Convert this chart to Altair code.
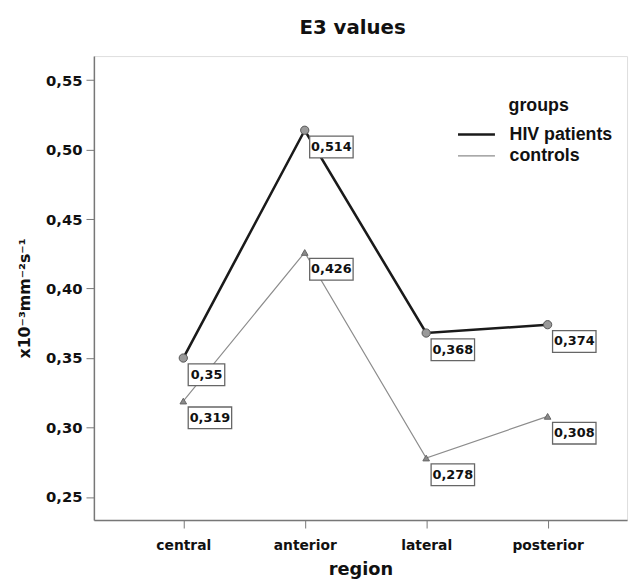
import altair as alt
import pandas as pd

regions = ["central", "anterior", "lateral", "posterior"]
hiv_values = [0.35, 0.514, 0.368, 0.374]
control_values = [0.319, 0.426, 0.278, 0.308]
groups = ["HIV patients", "controls"]
y_ticks = [0.25, 0.30, 0.35, 0.40, 0.45, 0.50, 0.55]

rows = []
for g, vals in zip(groups, [hiv_values, control_values]):
    for i, (r, v) in enumerate(zip(regions, vals)):
        rows.append({"group": g, "region": r, "idx": i, "value": v,
                     "label": str(v).replace(".", ",")})
df = pd.DataFrame(rows)

AX_FONT = "DejaVu Sans"
GRAY = "#777777"

x_enc = alt.X("idx:Q",
              scale=alt.Scale(domain=[-0.736, 3.654], nice=False, zero=False),
              axis=alt.Axis(values=[0, 1, 2, 3], grid=False,
                            labelExpr="['central','anterior','lateral','posterior'][datum.value]",
                            title="region", labelFont=AX_FONT, labelFontSize=14,
                            labelFontWeight="bold", labelColor="#111",
                            titleFont=AX_FONT, titleFontSize=18, titleFontWeight="bold",
                            titleColor="#111", titlePadding=8,
                            tickSize=8, labelPadding=11, domainColor=GRAY,
                            tickColor=GRAY, domainWidth=1.5, labelFlush=False))
y_enc = alt.Y("value:Q",
              scale=alt.Scale(domain=[0.2333, 0.5674], nice=False, zero=False),
              axis=alt.Axis(values=y_ticks, grid=False,
                            labelExpr="replace(format(datum.value, '.2f'), '.', ',')",
                            title="x10⁻³mm⁻²s⁻¹", labelFont=AX_FONT, labelFontSize=15,
                            labelFontWeight="bold", labelColor="#111",
                            titleFont=AX_FONT, titleFontSize=16, titleFontWeight="bold",
                            titleColor="#111", titlePadding=13, titleY=245,
                            tickSize=8, labelPadding=4, domainColor=GRAY,
                            tickColor=GRAY, domainWidth=1.5))

base = alt.Chart(df)

legend = alt.Legend(orient="none", legendX=375, legendY=67,
                    symbolType="M-1.7,0L1.7,0", symbolSize=484,
                    labelFont="Liberation Sans", labelFontSize=18,
                    labelFontWeight="bold", labelColor="#111", labelOffset=21,
                    rowPadding=0)

lines = base.mark_line().encode(
    x=x_enc, y=y_enc,
    color=alt.Color("group:N", scale=alt.Scale(domain=groups, range=["#1a1a1a", "#8c8c8c"]),
                    legend=legend, title=None),
    strokeWidth=alt.StrokeWidth("group:N", scale=alt.Scale(domain=groups, range=[2.6, 1.2]),
                                legend=legend, title=None),
)

hiv_pts = base.transform_filter(alt.datum.group == "HIV patients").mark_point(
    shape="circle", filled=True, size=70, fill="#9a9a9a", stroke="#555555",
    strokeWidth=1, opacity=1).encode(x="idx:Q", y="value:Q")

ctl_pts = base.transform_filter(alt.datum.group == "controls").mark_point(
    shape="triangle-up", filled=True, size=45, fill="#8a8a8a", stroke="#666666",
    strokeWidth=1, opacity=1).encode(x="idx:Q", y="value:Q")

long_lab = base.transform_filter("length(datum.label) > 4")
short_lab = base.transform_filter("length(datum.label) <= 4")

box_long = long_lab.mark_rect(fill="white", stroke="#666666", strokeWidth=1.3,
                              xOffset=5, x2Offset=49, yOffset=6, y2Offset=28).encode(
    x="idx:Q", x2="idx:Q", y="value:Q", y2="value:Q")
box_short = short_lab.mark_rect(fill="white", stroke="#666666", strokeWidth=1.3,
                                xOffset=5, x2Offset=42, yOffset=6, y2Offset=28).encode(
    x="idx:Q", x2="idx:Q", y="value:Q", y2="value:Q")

txt_long = long_lab.mark_text(font=AX_FONT, fontSize=13, fontWeight="bold", color="#111",
                              dx=27, dy=17, align="center", baseline="middle").encode(
    x="idx:Q", y="value:Q", text="label:N")
txt_short = short_lab.mark_text(font=AX_FONT, fontSize=13, fontWeight="bold", color="#111",
                                dx=23.5, dy=17, align="center", baseline="middle").encode(
    x="idx:Q", y="value:Q", text="label:N")

legend_title = alt.Chart(pd.DataFrame({"t": ["groups"]})).mark_text(
    font="Liberation Sans", fontSize=18, fontWeight="bold", color="#111",
    align="left", baseline="middle").encode(
    x=alt.value(420), y=alt.value(51), text="t:N")

chart = alt.layer(lines, hiv_pts, ctl_pts, box_long, box_short, txt_long, txt_short,
                  legend_title).properties(
    width=540, height=470,
    title=alt.TitleParams("E3 values", font=AX_FONT, fontSize=20, fontWeight="bold",
                          color="#111", offset=18, anchor="middle", frame="group", dx=-8),
    autosize=alt.AutoSizeParams(type="none"),
    padding={"left": 87, "top": 45, "right": 4, "bottom": 60},
).configure_view(stroke=GRAY, strokeWidth=1.5).configure(background="white")

chart.save("out.html", embed_options={"renderer": "svg", "actions": False})
